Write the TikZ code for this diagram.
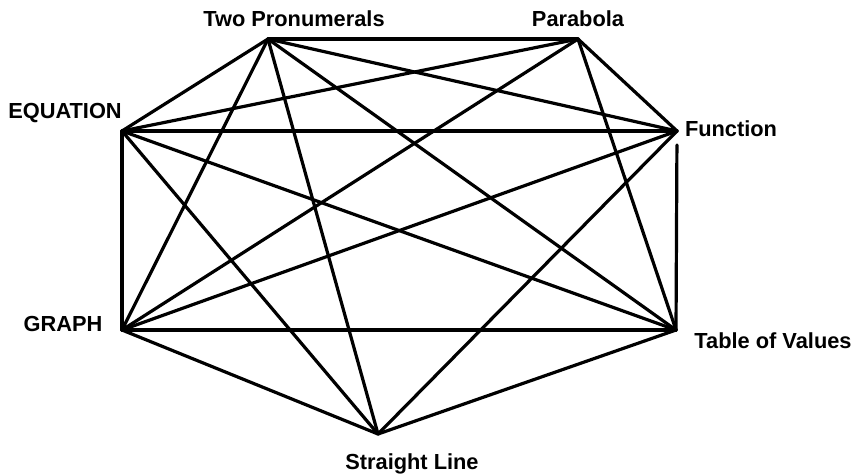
\documentclass[tikz,border=0pt]{standalone}
\usepackage{fontspec}
\setmainfont{Liberation Sans}
\begin{document}
\begin{tikzpicture}[x=1pt, y=-1pt, line join=round, line cap=round,
		lbl/.style={font=\bfseries\fontsize{21.8}{25}\selectfont, inner sep=0pt}]
				\useasboundingbox (0,0) rectangle (853,474);
				
				\coordinate (TP) at (268,39);
				\coordinate (PA) at (578,39);
				\coordinate (EQ) at (122,131);
				\coordinate (FN) at (677,131);
				\coordinate (GR) at (122,330);
				\coordinate (TV) at (676,330);
				\coordinate (SL) at (378,434);
				
				\foreach \a/\b in {TP/PA, TP/EQ, TP/GR, TP/SL, TP/TV, TP/FN,
					PA/EQ, PA/GR, PA/FN, PA/TV,
					EQ/FN, EQ/GR, EQ/SL, EQ/TV,
					GR/FN, GR/TV, GR/SL,
					FN/SL, TV/SL}
					\draw[line width=3.2pt] (\a) -- (\b);
				\draw[line width=3.2pt, shorten <=14pt] (FN) -- (TV);
				
				\node[lbl] (TPl) at (294,19) {Two Pronumerals};
				\node[lbl] (PAl) at (578,19) {Parabola};
				\node[lbl] (EQl) at (65,113) {EQUATION};
				\node[lbl] (FNl) at (731,129) {Function};
				\node[lbl] (GRl) at (63,324) {GRAPH};
				\node[lbl] (TVl) at (773,341) {Table of Values};
				\node[lbl] (SLl) at (412,464) {Straight Line};
			\end{tikzpicture}
\end{document}
